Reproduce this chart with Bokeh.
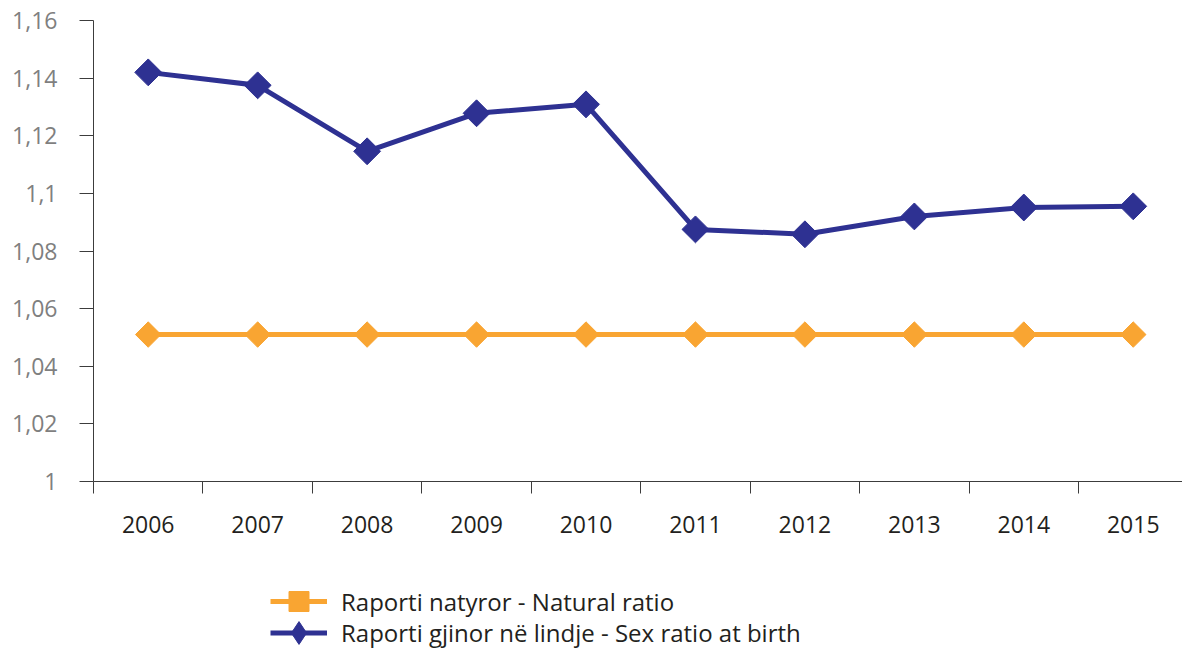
import math
from bokeh.plotting import figure
from bokeh.layouts import column
from bokeh.models import (ColumnDataSource, Range1d, FixedTicker, CustomJSTickFormatter,
                          Legend, LegendItem)
from bokeh.embed import file_html
from bokeh.resources import INLINE

years = ["2006", "2007", "2008", "2009", "2010", "2011", "2012", "2013", "2014", "2015"]
natural_ratio = [1.051, 1.051, 1.051, 1.051, 1.051, 1.051, 1.051, 1.051, 1.051, 1.051]
sex_ratio = [1.142, 1.1375, 1.1146, 1.1278, 1.1309, 1.0875, 1.0858, 1.092, 1.0951, 1.0955]
y_ticks = [1.0, 1.02, 1.04, 1.06, 1.08, 1.1, 1.12, 1.14, 1.16]

label_nat = "Raporti natyror - Natural ratio"
label_sex = "Raporti gjinor në lindje - Sex ratio at birth"

ORANGE = "#F9A532"
NAVY = "#2E3192"
FONT = "Open Sans"

x = list(range(len(years)))
src = ColumnDataSource(dict(x=x, year=years, natural=natural_ratio, sex=sex_ratio))

p = figure(width=1182, height=548, output_backend="svg", toolbar_location=None,
           x_range=Range1d(-0.5, 9.45), y_range=Range1d(1.0, 1.16),
           min_border_left=93, min_border_right=0, min_border_top=20, min_border_bottom=67)
p.outline_line_color = None
p.grid.visible = False

# x axis: labels at category centres, tick marks at category boundaries
xa = p.xaxis[0]
xa.ticker = FixedTicker(ticks=x, minor_ticks=[i - 0.5 for i in x] + [len(x) - 0.5])
xa.major_label_overrides = {i: y for i, y in zip(x, years)}
xa.major_tick_out = 0
xa.major_tick_in = 0
xa.minor_tick_out = 12
xa.minor_tick_in = 0
xa.minor_tick_line_color = "#3c3c3c"
xa.axis_line_color = "#3c3c3c"
xa.major_label_standoff = 22
xa.major_label_text_font = FONT
xa.major_label_text_font_size = "23px"
xa.major_label_text_color = "#231f20"

ya = p.yaxis[0]
ya.ticker = FixedTicker(ticks=y_ticks, minor_ticks=[])
ya.formatter = CustomJSTickFormatter(code="return String(Math.round(tick*100)/100).replace('.', ',')")
ya.major_tick_out = 14
ya.major_tick_in = 0
ya.major_tick_line_color = "#3c3c3c"
ya.axis_line_color = "#3c3c3c"
ya.major_label_standoff = 22
ya.major_label_text_font = FONT
ya.major_label_text_font_size = "23px"
ya.major_label_text_color = "#7f7f7f"

p.line('x', 'natural', source=src, line_width=5, color=ORANGE)
p.scatter('x', 'natural', source=src, marker='square', angle=math.pi / 4, size=18, color=ORANGE)
p.line('x', 'sex', source=src, line_width=5, color=NAVY)
p.scatter('x', 'sex', source=src, marker='square', angle=math.pi / 4, size=19, color=NAVY)

# legend strip below the chart (its glyph renderers lie outside its visible ranges)
lg = figure(width=1182, height=100, output_backend="svg", toolbar_location=None,
            x_range=Range1d(-20, -19), y_range=Range1d(-20, -19),
            x_axis_location=None, y_axis_location=None, min_border=0)
lg.outline_line_color = None
lg.grid.visible = False
n_line = lg.line('x', 'natural', source=src, line_width=5, color=ORANGE)
n_mark = lg.scatter('x', 'natural', source=src, marker='square', color=ORANGE)
s_line = lg.line('x', 'sex', source=src, line_width=5, color=NAVY)
s_mark = lg.scatter('x', 'sex', source=src, marker='diamond', color=NAVY)

common = dict(padding=0, margin=0, border_line_color=None, background_fill_alpha=0,
              label_standoff=14, glyph_width=57, label_text_font=FONT,
              label_text_font_size="24px", label_text_color="#231f20", spacing=0)
leg1 = Legend(items=[LegendItem(label=label_nat, renderers=[n_line, n_mark])],
              location=(177, 22), glyph_height=50, **common)
leg2 = Legend(items=[LegendItem(label=label_sex, renderers=[s_line, s_mark])],
              location=(177, -13), glyph_height=57, **common)
lg.add_layout(leg1)
lg.add_layout(leg2)

layout = column(p, lg, spacing=0)
open("out.html", "w").write(file_html(layout, INLINE))
